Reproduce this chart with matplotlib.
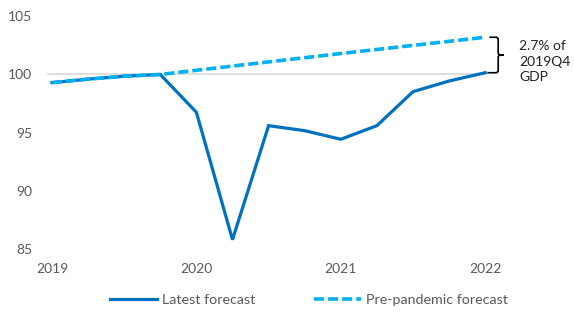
import matplotlib
matplotlib.use("Agg")
import matplotlib.pyplot as plt
import numpy as np

quarters = ["2019Q1", "2019Q2", "2019Q3", "2019Q4",
            "2020Q1", "2020Q2", "2020Q3", "2020Q4",
            "2021Q1", "2021Q2", "2021Q3", "2021Q4", "2022Q1"]
latest = [99.3, 99.6, 99.85, 100.0, 96.75, 85.8, 95.6, 95.17, 94.43, 95.6, 98.52, 99.44, 100.15]
pre_pandemic = [99.3, 99.6, 99.85, 100.0, 100.36, 100.72, 101.08, 101.44, 101.8, 102.15, 102.5, 102.85, 103.2]
year_labels = ["2019", "2020", "2021", "2022"]
y_ticks = [85, 90, 95, 100, 105]
annotation = "2.7% of\n2019Q4\nGDP"

plt.rcParams['font.family'] = ['Lato', 'DejaVu Sans']

W, H = 574, 316
fig = plt.figure(figsize=(W / 100, H / 100), dpi=100)
px_per_q = 36.1
x0_px = 52
xl, xr = -0.15, 12.05
left_px = x0_px + xl * px_per_q
right_px = x0_px + xr * px_per_q
top_px, bot_px = 16.3, 249
ax = fig.add_axes([left_px / W, 1 - bot_px / H, (right_px - left_px) / W, (bot_px - top_px) / H])
py_per_unit = (bot_px - top_px) / 20

x = np.arange(len(quarters))
dark = "#0070C0"
light = "#00B0F0"
ax.axhline(100, color="#D9D9D9", lw=1.2, zorder=1)
l1, = ax.plot(x, latest, color=dark, lw=2.3, solid_joinstyle="miter", zorder=3, label="Latest forecast")
l2, = ax.plot(x, pre_pandemic, color=light, lw=2.6, linestyle=(0, (2.8, 1.1)), dash_capstyle="butt",
              zorder=4, label="Pre-pandemic forecast")

ax.set_xlim(xl, xr)
ax.set_ylim(85, 105)
ax.set_yticks(y_ticks)
ax.set_yticklabels([str(v) for v in y_ticks])
ax.set_xticks(x[::4])
ax.set_xticklabels(year_labels)
for s in ax.spines.values():
    s.set_visible(False)
ax.tick_params(axis="both", length=0, labelsize=10, labelcolor="#595959")
ax.tick_params(axis="y", pad=10.5)
ax.tick_params(axis="x", pad=10)

# brace annotation
xe = x[-1]
top, bot = pre_pandemic[-1], latest[-1]
mid = (top + bot) / 2
d = 1 / px_per_q
bx = [xe + 5 * d, xe + 11.5 * d, xe + 13 * d, xe + 13 * d, xe + 14.5 * d, xe + 18 * d,
      xe + 14.5 * d, xe + 13 * d, xe + 13 * d, xe + 11.5 * d, xe + 3 * d]
hk = 1.5 / py_per_unit
by = [top, top, top - hk, mid + hk, mid, mid, mid, mid - hk, bot + hk, bot, bot]
ax.plot(bx, by, color="black", lw=1.2, clip_on=False, zorder=5)
ax.text(xe + 34 * d, mid - 7 / py_per_unit, annotation, ha="left", va="center", fontsize=10,
        color="#222222", linespacing=1.35, clip_on=False)

fig.legend(handles=[l1, l2], loc="center", bbox_to_anchor=(309 / W, 1 - 300 / H), ncol=2, frameon=False,
           fontsize=10.3, labelcolor="#595959", handlelength=3.3, handletextpad=0.36, columnspacing=4.1,
           borderaxespad=0, borderpad=0)

fig.savefig("out.png", dpi=100)
